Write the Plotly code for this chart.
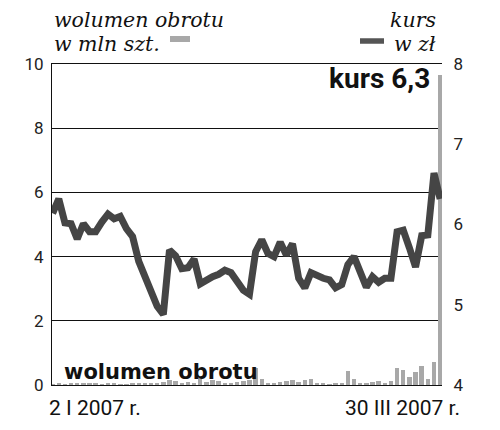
import plotly.graph_objects as go

days = list(range(64))
kurs = [6.14, 6.32, 6.02, 6.01, 5.82, 6.01, 5.91, 5.91, 6.03, 6.13,
        6.07, 6.10, 5.95, 5.85, 5.54, 5.37, 5.18, 4.98, 4.88, 5.68,
        5.61, 5.45, 5.46, 5.57, 5.26, 5.31, 5.35, 5.38, 5.43, 5.40,
        5.27, 5.18, 5.13, 5.66, 5.81, 5.64, 5.60, 5.78, 5.62, 5.76,
        5.33, 5.21, 5.40, 5.36, 5.33, 5.31, 5.21, 5.25, 5.50, 5.60,
        5.43, 5.22, 5.35, 5.28, 5.33, 5.33, 5.91, 5.93, 5.71, 5.47,
        5.86, 5.87, 6.64, 6.32]
wolumen = [0.03, 0.05, 0.03, 0.05, 0.04, 0.05, 0.04, 0.05, 0.03, 0.06,
           0.05, 0.03, 0.03, 0.04, 0.06, 0.06, 0.07, 0.06, 0.08, 0.15,
           0.14, 0.06, 0.08, 0.05, 0.25, 0.09, 0.16, 0.12, 0.06, 0.06,
           0.09, 0.11, 0.16, 0.53, 0.19, 0.06, 0.06, 0.09, 0.12, 0.16,
           0.09, 0.16, 0.19, 0.04, 0.06, 0.03, 0.05, 0.05, 0.44, 0.19,
           0.06, 0.06, 0.09, 0.12, 0.06, 0.11, 0.53, 0.47, 0.25, 0.40,
           0.59, 0.19, 0.72, 9.66]
left_ticks = [0, 2, 4, 6, 8, 10]
right_ticks = [4, 5, 6, 7, 8]
start_label = "2 I 2007 r."
end_label = "30 III 2007 r."

fig = go.Figure()
fig.add_trace(go.Bar(x=days, y=wolumen, yaxis="y", marker=dict(color="#a8a8a8", line=dict(width=0)),
                     width=0.72, showlegend=False))
fig.add_trace(go.Scatter(x=days, y=kurs, yaxis="y2", mode="lines",
                         line=dict(color="#454545", width=7), showlegend=False, cliponaxis=False))

tickfont = dict(family="Roboto", size=17, color="#222")
fig.update_layout(
    width=492, height=422,
    margin=dict(l=44, r=58, t=56, b=45),
    paper_bgcolor="white", plot_bgcolor="white",
    bargap=0,
    xaxis=dict(range=[-0.1, 63.3], showgrid=False, zeroline=False, showticklabels=False,
               showline=True, linecolor="#111", linewidth=1.2, mirror=True, ticks=""),
    yaxis=dict(range=[0, 10], tickvals=left_ticks, showgrid=True, gridcolor="#111", gridwidth=1,
               zeroline=False, showline=True, linecolor="#111", linewidth=1.2,
               ticks="outside", ticklen=4, tickcolor="rgba(0,0,0,0)", tickfont=tickfont),
    yaxis2=dict(range=[4, 8], tickvals=right_ticks, overlaying="y", side="right", showgrid=False,
                zeroline=False, showline=False, ticks="outside", ticklen=7,
                tickcolor="rgba(0,0,0,0)", tickfont=tickfont),
)

serif = dict(family="DejaVu Serif", size=20.5, color="#111", style="italic")
ann = [
    dict(text="wolumen obrotu", x=0.0, y=(385 - 20.5) / 321, xanchor="left", yanchor="middle", font=serif, height=18),
    dict(text="w mln szt.", x=0.0, y=(385 - 44) / 321, xanchor="left", yanchor="middle", font=serif, height=18),
    dict(text="kurs", x=0.99, y=(385 - 20.5) / 321, xanchor="right", yanchor="middle", font=serif, height=18),
    dict(text="w zł", x=0.99, y=(385 - 44) / 321, xanchor="right", yanchor="middle", font=serif, height=18),
    dict(text="<b>kurs 6,3</b>", x=0.974, y=0.955, xanchor="right", yanchor="middle",
         font=dict(family="Roboto", size=28, color="#111")),
    dict(text="<b>wolumen obrotu</b>", x=0.025, y=0.042, xanchor="left", yanchor="middle",
         font=dict(family="DejaVu Sans", size=21, color="#111")),
    dict(text=start_label, x=-0.012, y=-0.072, xanchor="left", yanchor="middle",
         font=dict(family="Roboto", size=21, color="#111")),
    dict(text=end_label, x=1.052, y=-0.072, xanchor="right", yanchor="middle",
         font=dict(family="Roboto", size=21, color="#111")),
]
for a in ann:
    a.update(xref="paper", yref="paper", showarrow=False)
    fig.add_annotation(**a)

fig.add_shape(type="rect", xref="paper", yref="paper", x0=(170 - 52) / 390, x1=(190 - 52) / 390,
              y0=(385 - 42) / 321, y1=(385 - 36) / 321, fillcolor="#a8a8a8", line=dict(width=0))
fig.add_shape(type="line", xref="paper", yref="paper", x0=(360 - 52) / 390, x1=(384 - 52) / 390,
              y0=(385 - 41) / 321, y1=(385 - 41) / 321, line=dict(color="#555", width=5.5))

fig.write_html("out.html")
